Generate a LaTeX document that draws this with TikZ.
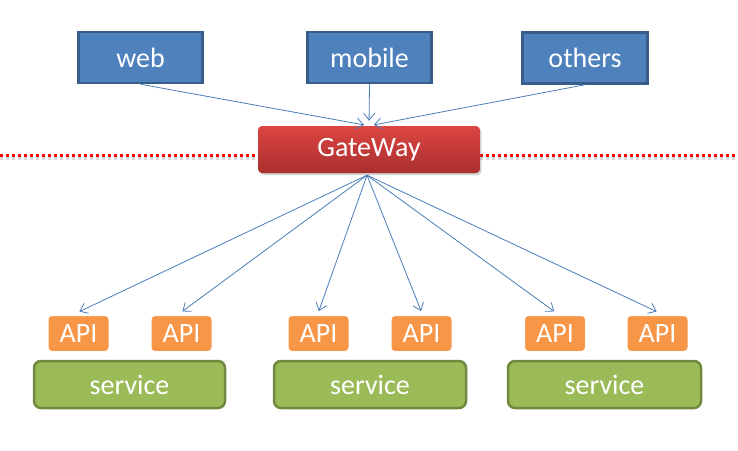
\documentclass[tikz,border=0pt]{standalone}
\usepackage{fontspec}
\setmainfont{Carlito}
\usetikzlibrary{arrows.meta,shadows}
\definecolor{clientfill}{HTML}{4F81BD}
\definecolor{clientline}{HTML}{385D8A}
\definecolor{gwtop}{HTML}{DC4542}
\definecolor{gwbot}{HTML}{A9302E}
\definecolor{apifill}{HTML}{F79646}
\definecolor{svcfill}{HTML}{9BBB59}
\definecolor{svcline}{HTML}{71893F}
\definecolor{arrowcol}{HTML}{4A7EBB}
\definecolor{dotred}{HTML}{FF0000}
\tikzset{
  lbl/.style={text=white,font=\fontsize{28}{32}\selectfont,inner sep=0pt},
  client/.style={lbl,draw=clientline,fill=clientfill,line width=2.5pt,minimum height=51pt},
  gateway/.style={lbl,rounded corners=4pt,top color=gwtop,bottom color=gwbot,draw=none,
     minimum width=222pt,minimum height=47pt,
     drop shadow={opacity=0.35,shadow xshift=1.5pt,shadow yshift=-2pt}},
  api/.style={lbl,fill=apifill,draw=white,line width=4pt,rounded corners=5pt,
     minimum width=64pt,minimum height=39pt,
     drop shadow={opacity=0.3,shadow xshift=0.5pt,shadow yshift=-0.8pt,shadow scale=1.03}},
  svc/.style={lbl,fill=svcfill,draw=svcline,line width=2.5pt,rounded corners=7pt,minimum height=47pt},
  link/.style={arrowcol,line width=0.8pt,-{Straight Barb[length=7pt,width=11pt,line width=0.8pt]}},
}
\begin{document}
\begin{tikzpicture}[x=1pt,y=-1pt]
\useasboundingbox[fill=white] (0,0) rectangle (738,450);
% dotted separator
\draw[black!15,line width=3pt,dash pattern=on 3pt off 3pt] (0,158) -- (738,158);
\draw[dotred,line width=3pt,dash pattern=on 3pt off 3pt] (0,155) -- (738,155);
% clients
\node[client,minimum width=124pt] (web) at (140.5,57.5) {web};
\node[client,minimum width=124pt] (mobile) at (369.5,57.5) {mobile};
\node[client,minimum width=125pt] (others) at (585,58) {others};
% gateway
\node[gateway] (gw) at (369,149.5) {GateWay};
% APIs
\node[api] (a1) at (78.5,333.5) {API};
\node[api] (a2) at (181.5,333.5) {API};
\node[api] (a3) at (318.5,333.5) {API};
\node[api] (a4) at (421.5,333.5) {API};
\node[api] (a5) at (555,333.5) {API};
\node[api] (a6) at (657.5,333.5) {API};
% services
\node[svc,minimum width=191pt] (s1) at (129.5,384.5) {service};
\node[svc,minimum width=192pt] (s2) at (370,384.5) {service};
\node[svc,minimum width=193pt] (s3) at (604.5,384.5) {service};
% connectors
\foreach \c in {web,mobile,others}
  \draw[link,shorten >=5pt] (\c.south) -- (gw.north);
\foreach \a in {a1,a2,a3,a4,a5,a6}
  \draw[link,shorten >=1pt] ([xshift=-2pt,yshift=-2pt]gw.south) -- (\a.north);
\end{tikzpicture}
\end{document}
